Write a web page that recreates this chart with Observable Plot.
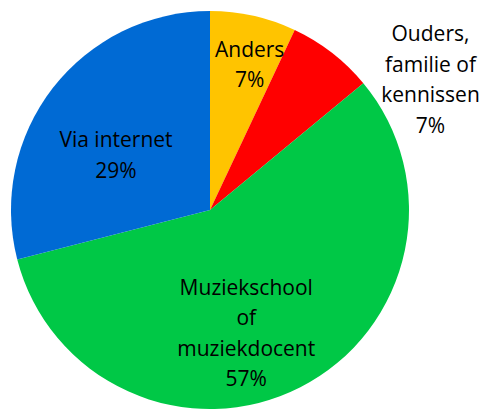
<!DOCTYPE html>
<html><head><meta charset="utf-8">
<script src="https://cdn.jsdelivr.net/npm/d3@7"></script>
<script src="https://cdn.jsdelivr.net/npm/@observablehq/plot@0.6"></script>
<style>html,body{margin:0;padding:0;background:#fff;overflow:hidden}</style>
</head><body><div id="chart"></div>
<script>
// Data
const categories = ["Anders", "Ouders, familie of kennissen", "Muziekschool of muziekdocent", "Via internet"];
const labelTexts = ["Anders", "Ouders,\nfamilie of\nkennissen", "Muziekschool\nof\nmuziekdocent", "Via internet"];
const percentages = [7, 7, 57, 29];
const colors = ["#FFC400", "#FF0000", "#00C846", "#006AD4"];

// Layout / style (not data)
const W = 484, H = 410;
const center = {x: 210, y: 210};
const radius = 199;
const labelRadius = [152, 199, 125, 112];
const labelNudge = [[6, 0], [98, 24], [-21, 9], [-6, 11]];

const data = categories.map((c, i) => ({category: c, value: percentages[i], label: labelTexts[i] + "\n" + percentages[i] + "%"}));
const arcs = d3.pie().sort(null).value(d => d.value)(data);

const labelData = arcs.map((a, i) => {
  const mid = (a.startAngle + a.endAngle) / 2;
  return {
    label: a.data.label,
    x: center.x + labelRadius[i] * Math.sin(mid) + labelNudge[i][0],
    y: center.y - labelRadius[i] * Math.cos(mid) + labelNudge[i][1]
  };
});

const chart = Plot.plot({
  width: W,
  height: H,
  margin: 0,
  x: {domain: [0, W], range: [0, W], axis: null},
  y: {domain: [0, H], range: [0, H], axis: null},
  color: {type: "ordinal", domain: categories, range: colors},
  style: {fontFamily: "'Open Sans', Lato, sans-serif", background: "#fff"},
  marks: [
    Plot.dot(arcs, {
      x: () => center.x,
      y: () => center.y,
      fill: d => d.data.category,
      render(index, scales, values) {
        const cx = scales.x(center.x), cy = scales.y(center.y);
        const r = scales.x(center.x + radius) - cx;
        const arc = d3.arc().innerRadius(0).outerRadius(r);
        const g = d3.create("svg:g").attr("transform", `translate(${cx},${cy})`);
        g.selectAll("path")
          .data(index)
          .join("path")
          .attr("d", i => arc(arcs[i]))
          .attr("fill", i => values.fill[i]);
        return g.node();
      }
    }),
    Plot.text(labelData, {
      x: "x",
      y: "y",
      text: "label",
      fontSize: 21,
      lineHeight: 1.45,
      textAnchor: "middle",
      lineAnchor: "middle",
      fill: "#000"
    })
  ]
});
document.getElementById("chart").appendChild(chart);
</script>
</body></html>
